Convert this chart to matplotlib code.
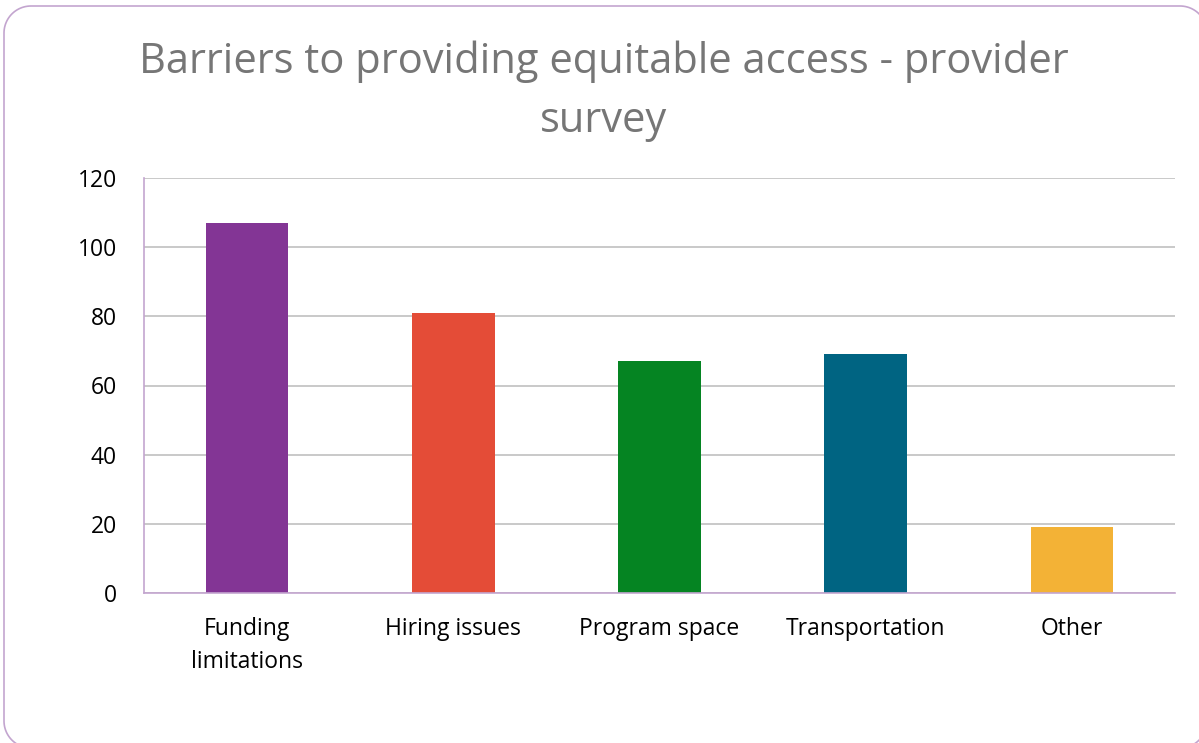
import numpy as np
import matplotlib
matplotlib.use("Agg")
import matplotlib.pyplot as plt
from matplotlib.patches import Polygon
from matplotlib.transforms import IdentityTransform

categories = ["Funding\nlimitations", "Hiring issues", "Program space", "Transportation", "Other"]
values = [107, 81, 67, 69, 19]
colors = ["#833595", "#E44C37", "#058422", "#006482", "#F3B236"]
yticks = [0, 20, 40, 60, 80, 100, 120]
title_lines = ["Barriers to providing equitable access - provider", "survey"]

plt.rcParams["font.family"] = ["Open Sans", "DejaVu Sans"]

W, H = 1199, 743
fig = plt.figure(figsize=(W / 100, H / 100), dpi=100)
fig.patch.set_facecolor("white")


def rounded_rect(x0, y0, x1, y1, r, n=24):
    """Outline of a rounded rectangle in pixel units (origin bottom-left)."""
    pts = []
    corners = [(x1 - r, y1 - r, 0), (x0 + r, y1 - r, 90),
               (x0 + r, y0 + r, 180), (x1 - r, y0 + r, 270)]
    for cx, cy, a0 in corners:
        t = np.radians(np.linspace(a0, a0 + 90, n))
        pts.extend(zip(cx + r * np.cos(t), cy + r * np.sin(t)))
    return np.array(pts)


# outer frame; it runs a little past the right and bottom edges of the canvas
frame = Polygon(rounded_rect(4, H - 748, 1207, H - 6, 27), closed=True,
                transform=IdentityTransform(), facecolor="none",
                edgecolor="#C3A5CF", linewidth=1.2)
fig.patches.append(frame)

left, right = 144 / W, 1175 / W
bottom, top = 1 - 593 / H, 1 - 178 / H
ax = fig.add_axes([left, bottom, right - left, top - bottom])

x = range(len(categories))
ax.bar(x, values, width=0.4, color=colors, zorder=3)
ax.set_xlim(-0.5, len(categories) - 0.5)
ax.set_ylim(0, 120)
ax.set_yticks(yticks)
ax.set_xticks(list(x))
ax.set_xticklabels(categories, fontsize=16.5, color="#000000", linespacing=1.5)
ax.tick_params(axis="y", labelsize=16.5, length=0, pad=19.5, labelcolor="#000000")
ax.tick_params(axis="x", length=0, pad=17.5)
ax.yaxis.grid(True, color="#C0C0C0", linewidth=1.2, zorder=0)
for s in ["top", "right"]:
    ax.spines[s].set_visible(False)
for s in ["left", "bottom"]:
    ax.spines[s].set_color("#C3A5CF")
    ax.spines[s].set_linewidth(1.2)
ax.spines["bottom"].set_zorder(4)

# two-line chart title
fig.text(604 / W, 1 - 73 / H, title_lines[0], ha="center", va="baseline",
         fontsize=30, color="#767676")
fig.text(604 / W, 1 - 132 / H, title_lines[1], ha="center", va="baseline",
         fontsize=30, color="#767676")

fig.savefig("out.png", dpi=100, facecolor="white")
